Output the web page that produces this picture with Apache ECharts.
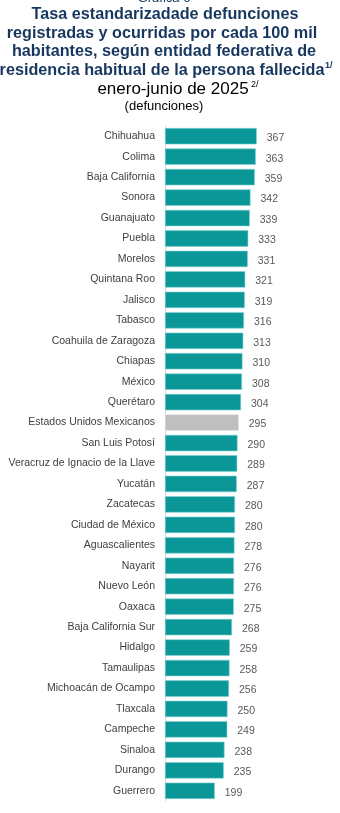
<!DOCTYPE html>
<html>
<head>
<meta charset="utf-8">
<style>
  html, body { margin: 0; padding: 0; background: #ffffff; }
  #chart { width: 340px; height: 813px; }
</style>
<script src="https://cdn.jsdelivr.net/npm/echarts@6/dist/echarts.min.js"></script>
</head>
<body>
<div id="chart"></div>
<script>
// Entidades federativas, ordered from highest to lowest rate
const categories = [
  'Chihuahua', 'Colima', 'Baja California', 'Sonora', 'Guanajuato', 'Puebla',
  'Morelos', 'Quintana Roo', 'Jalisco', 'Tabasco', 'Coahuila de Zaragoza',
  'Chiapas', 'México', 'Querétaro', 'Estados Unidos Mexicanos', 'San Luis Potosí',
  'Veracruz de Ignacio de la Llave', 'Yucatán', 'Zacatecas', 'Ciudad de México',
  'Aguascalientes', 'Nayarit', 'Nuevo León', 'Oaxaca', 'Baja California Sur',
  'Hidalgo', 'Tamaulipas', 'Michoacán de Ocampo', 'Tlaxcala', 'Campeche',
  'Sinaloa', 'Durango', 'Guerrero'
];

// Tasa estandarizada por cada 100 mil habitantes
const rates = [
  367, 363, 359, 342, 339, 333,
  331, 321, 319, 316, 313,
  310, 308, 304, 295, 290,
  289, 287, 280, 280,
  278, 276, 276, 275, 268,
  259, 258, 256, 250, 249,
  238, 235, 199
];

// National total is highlighted in gray
const nationalLabel = 'Estados Unidos Mexicanos';

const TEAL = '#0B9697';
const GRAY = '#BFBFBF';
const NAVY = '#17375E';

const chart = echarts.init(document.getElementById('chart'), null, { renderer: 'canvas' });

const barData = rates.map((v, i) => ({
  value: v,
  itemStyle: {
    color: categories[i] === nationalLabel ? GRAY : TEAL,
    borderColor: categories[i] === nationalLabel ? '#E0E0E0' : '#7FD3D3',
    borderWidth: 0.6
  }
}));

const titleFont = 'bold 16.2px "Liberation Sans", Arial, sans-serif';

chart.setOption({
  animation: false,
  backgroundColor: '#ffffff',
  grid: { left: 165, right: 50, top: 126, bottom: 12, containLabel: false },
  xAxis: {
    type: 'value',
    min: 0,
    max: 500,
    show: false
  },
  yAxis: {
    type: 'category',
    data: categories,
    inverse: true,
    axisLine: { show: true, lineStyle: { color: '#D9D9D9', width: 1 } },
    axisTick: { show: false },
    axisLabel: {
      color: '#404040',
      fontSize: 10.5,
      fontFamily: '"Liberation Sans", Arial, sans-serif',
      margin: 10
    }
  },
  series: [{
    type: 'bar',
    data: barData,
    barCategoryGap: '20%',
    label: {
      show: true,
      position: 'right',
      distance: 10,
      offset: [0, 2],
      color: '#595959',
      fontSize: 10.5,
      fontFamily: '"Liberation Sans", Arial, sans-serif'
    }
  }],
  graphic: [
    { type: 'text', x: 164, y: -2,
      style: { text: 'Gráfica 6', font: '13px "Liberation Sans", Arial, sans-serif', fill: NAVY, align: 'center', verticalAlign: 'middle' } },
    { type: 'text', x: 165, y: 15,
      style: { text: 'Tasa estandarizadade defunciones', font: titleFont, fill: NAVY, align: 'center', verticalAlign: 'middle' } },
    { type: 'text', x: 162, y: 33.5,
      style: { text: 'registradas y ocurridas por cada 100 mil', font: titleFont, fill: NAVY, align: 'center', verticalAlign: 'middle' } },
    { type: 'text', x: 164, y: 52,
      style: { text: 'habitantes, según entidad federativa de', font: titleFont, fill: NAVY, align: 'center', verticalAlign: 'middle' } },
    { type: 'text', x: 162, y: 70.5,
      style: { text: 'residencia habitual de la persona fallecida', font: titleFont, fill: NAVY, align: 'center', verticalAlign: 'middle' } },
    { type: 'text', x: 325, y: 66,
      style: { text: '1/', font: 'bold 9px "Liberation Sans", Arial, sans-serif', fill: NAVY, align: 'left', verticalAlign: 'middle' } },
    { type: 'text', x: 173, y: 89.5,
      style: { text: 'enero-junio de 2025', font: '17px "Liberation Sans", Arial, sans-serif', fill: '#000000', align: 'center', verticalAlign: 'middle' } },
    { type: 'text', x: 251, y: 84.5,
      style: { text: '2/', font: '9px "Liberation Sans", Arial, sans-serif', fill: '#000000', align: 'left', verticalAlign: 'middle' } },
    { type: 'text', x: 164, y: 106,
      style: { text: '(defunciones)', font: '13px "Liberation Sans", Arial, sans-serif', fill: '#000000', align: 'center', verticalAlign: 'middle' } }
  ]
});
</script>
</body>
</html>
